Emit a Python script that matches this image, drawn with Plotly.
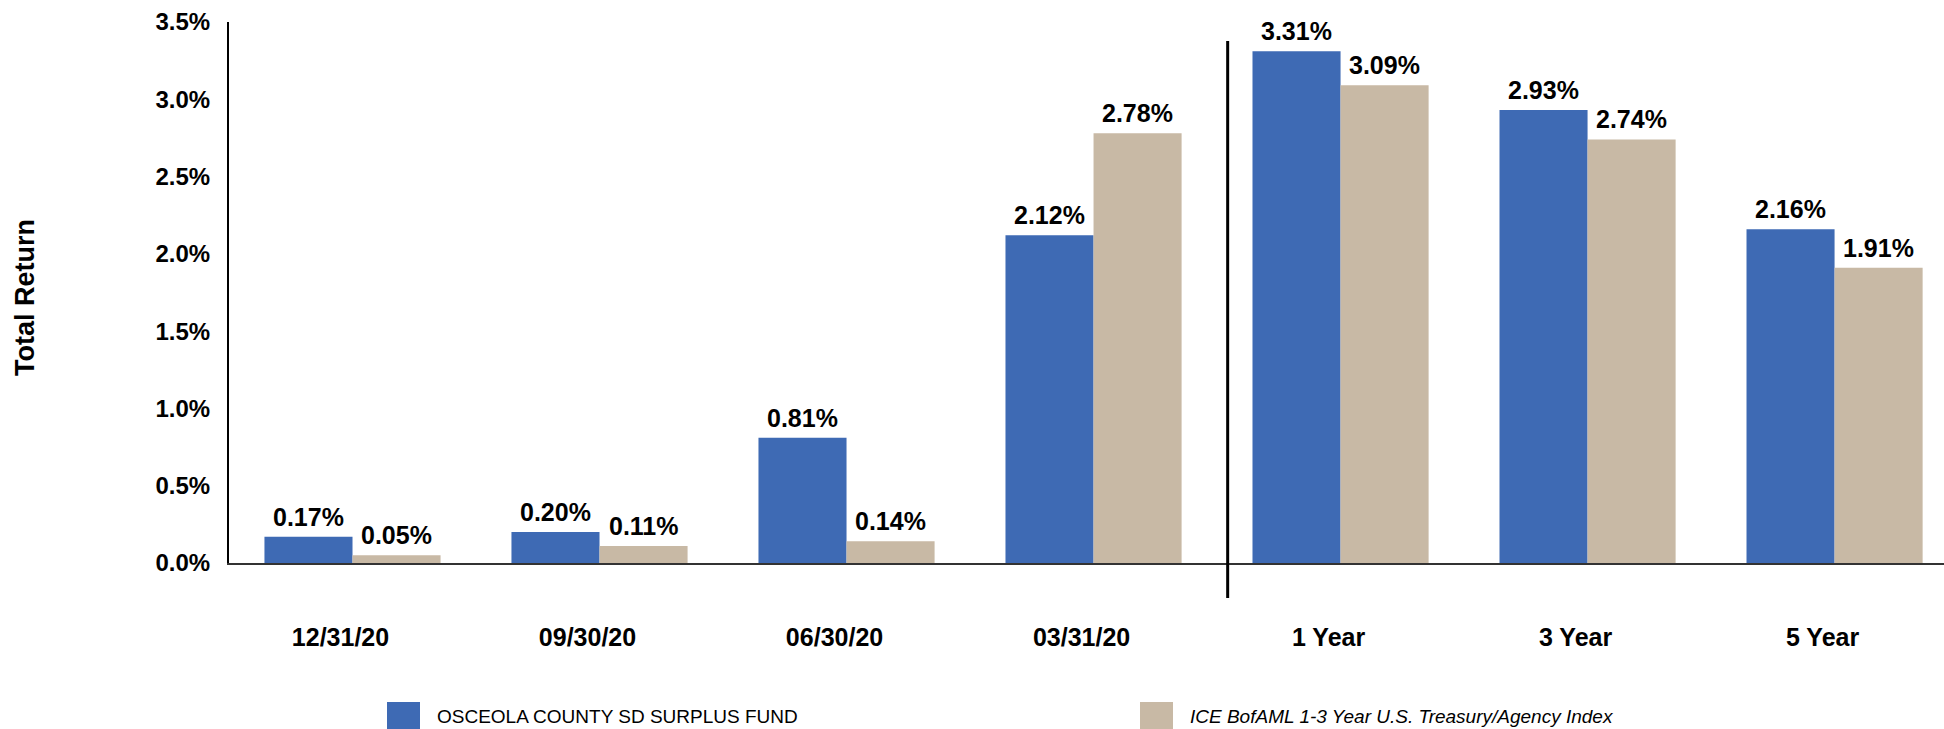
import plotly.graph_objects as go

# Return periods and total returns (%)
categories = ["12/31/20", "09/30/20", "06/30/20", "03/31/20", "1 Year", "3 Year", "5 Year"]
fund_returns = [0.17, 0.20, 0.81, 2.12, 3.31, 2.93, 2.16]
index_returns = [0.05, 0.11, 0.14, 2.78, 3.09, 2.74, 1.91]

fund_name = "OSCEOLA COUNTY SD SURPLUS FUND"
index_name = "ICE BofAML 1-3 Year U.S. Treasury/Agency Index"

y_ticks = [0.0, 0.5, 1.0, 1.5, 2.0, 2.5, 3.0, 3.5]
y_tick_labels = [f"{v:.1f}%" for v in y_ticks]

BLUE = "#3E6AB4"
TAN = "#C8B9A5"
FONT = "Liberation Sans, Arial, sans-serif"

W, H = 1944, 729
M_L, M_R, M_T, M_B = 229, 0, 22, 166
PLOT_H = H - M_T - M_B


def py_to_paper(py):
    """Convert a pixel row (from top of page) into paper y."""
    return (H - M_B - py) / PLOT_H


def px_to_paper(px):
    return (px - M_L) / (W - M_L - M_R)


fig = go.Figure()
fig.add_trace(go.Bar(x=categories, y=fund_returns, name=fund_name,
                     marker=dict(color=BLUE, line=dict(width=0))))
fig.add_trace(go.Bar(x=categories, y=index_returns, name=index_name,
                     marker=dict(color=TAN, line=dict(width=0))))

# value labels above each bar
BAR_HALF_OFFSET = 44
annotations = []
for i, (f, b) in enumerate(zip(fund_returns, index_returns)):
    for val, shift in ((f, -BAR_HALF_OFFSET), (b, BAR_HALF_OFFSET)):
        annotations.append(dict(
            x=i, y=val, xref="x", yref="y", xshift=shift, yshift=4,
            text=f"{val:.2f}%", showarrow=False, yanchor="bottom",
            font=dict(family=FONT, size=25, color="#000000", weight="bold"),
        ))

# y-axis title
annotations.append(dict(
    x=px_to_paper(25), y=py_to_paper(298), xref="paper", yref="paper",
    text="Total Return", textangle=-90, showarrow=False,
    xanchor="center", yanchor="middle",
    font=dict(family=FONT, size=27, color="#000000", weight="bold"),
))

# legend drawn along the bottom edge
legend_items = [(fund_name, BLUE, 387, 435, False), (index_name, TAN, 1140, 1188, True)]
shapes = []
for name, color, x0, tx, italic in legend_items:
    shapes.append(dict(type="rect", xref="paper", yref="paper",
                       x0=px_to_paper(x0), x1=px_to_paper(x0 + 33),
                       y0=py_to_paper(702), y1=py_to_paper(735),
                       fillcolor=color, line=dict(width=0)))
    annotations.append(dict(
        x=px_to_paper(tx), y=py_to_paper(716), xref="paper", yref="paper",
        text=name, showarrow=False, xanchor="left", yanchor="middle",
        font=dict(family=FONT, size=19, color="#000000",
                  style="italic" if italic else "normal"),
    ))

# divider between quarterly and annualised periods
SEPARATOR_X = 3.543
shapes.append(dict(type="line", xref="x", yref="paper",
                   x0=SEPARATOR_X, x1=SEPARATOR_X,
                   y0=py_to_paper(598), y1=py_to_paper(41),
                   line=dict(color="#000000", width=3)))

fig.update_layout(
    width=W, height=H,
    margin=dict(l=M_L, r=M_R, t=M_T, b=M_B, autoexpand=False),
    paper_bgcolor="white", plot_bgcolor="white",
    barmode="group", bargap=0.287, bargroupgap=0.0,
    showlegend=False,
    annotations=annotations, shapes=shapes,
    xaxis=dict(
        type="category", range=[-0.5, 6.443],
        showline=True, linecolor="#333333", linewidth=1.5,
        showgrid=False, zeroline=False, ticks="",
        ticklabelstandoff=51, ticklabelshift=-12,
        tickfont=dict(family=FONT, size=25, color="#000000", weight="bold"),
    ),
    yaxis=dict(
        range=[0, 3.5], tickvals=y_ticks, ticktext=y_tick_labels,
        showline=True, linecolor="#000000", linewidth=2,
        showgrid=False, zeroline=False, ticks="",
        ticklabelstandoff=12,
        tickfont=dict(family=FONT, size=24, color="#000000", weight="bold"),
    ),
)

fig.write_html("out.html")
